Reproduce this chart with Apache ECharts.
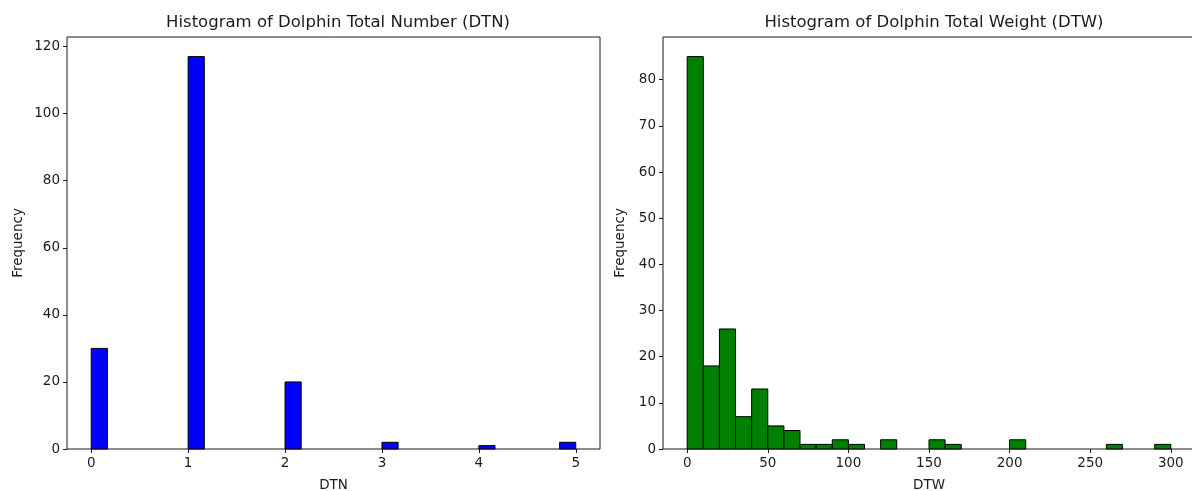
<!DOCTYPE html>
<html>
<head>
<meta charset="utf-8">
<script src="https://cdn.jsdelivr.net/npm/echarts@6/dist/echarts.min.js"></script>
<style>
  html, body { margin: 0; padding: 0; background: #fff; }
  #chart { width: 1192px; height: 491px; }
</style>
</head>
<body>
<div id="chart"></div>
<script>
// Histogram of DTN: 30 equal bins spanning 0..5
const dtnRange = [0, 5];
const dtnCounts = [30, 0, 0, 0, 0, 0, 117, 0, 0, 0, 0, 0, 20, 0, 0, 0, 0, 0, 2, 0, 0, 0, 0, 0, 1, 0, 0, 0, 0, 2];
const dtnXTicks = [0, 1, 2, 3, 4, 5];
const dtnYTicks = [0, 20, 40, 60, 80, 100, 120];

// Histogram of DTW: 30 equal bins spanning 0..300
const dtwRange = [0, 300];
const dtwCounts = [85, 18, 26, 7, 13, 5, 4, 1, 1, 2, 1, 0, 2, 0, 0, 2, 1, 0, 0, 0, 2, 0, 0, 0, 0, 0, 1, 0, 0, 1];
const dtwXTicks = [0, 50, 100, 150, 200, 250, 300];
const dtwYTicks = [0, 10, 20, 30, 40, 50, 60, 70, 80];

const FONT = 'DejaVu Sans';
const INK = '#1a1a1a';

// turn a counts array into [binStart, binEnd, count] rows
function binRows(range, counts) {
  const w = (range[1] - range[0]) / counts.length;
  return counts.map((c, i) => [range[0] + i * w, range[0] + (i + 1) * w, c])
               .filter(r => r[2] > 0);
}

function padded(range, frac) {
  const span = range[1] - range[0];
  return [range[0] - span * frac, range[1] + span * frac];
}

function histSeries(idx, rows, color) {
  return {
    type: 'custom',
    xAxisIndex: idx,
    yAxisIndex: idx,
    data: rows,
    renderItem: function (params, api) {
      const p0 = api.coord([api.value(0), 0]);
      const p1 = api.coord([api.value(1), api.value(2)]);
      return {
        type: 'rect',
        shape: { x: p0[0], y: p1[1], width: p1[0] - p0[0], height: p0[1] - p1[1] },
        style: { fill: color, stroke: '#000', lineWidth: 1 }
      };
    }
  };
}

function xAxisFor(idx, ext, ticks, name) {
  return {
    type: 'value', gridIndex: idx, min: ext[0], max: ext[1],
    name: name, nameLocation: 'middle', nameGap: 29,
    nameTextStyle: { fontFamily: FONT, fontSize: 13.5, color: INK },
    axisLine: { show: false, onZero: false },
    axisTick: { show: true, length: 4, inside: false, customValues: ticks, lineStyle: { color: INK, width: 1 } },
    axisLabel: { customValues: ticks, fontFamily: FONT, fontSize: 13.5, color: INK, margin: 7 },
    splitLine: { show: false }
  };
}

function yAxisFor(idx, ext, ticks) {
  return {
    type: 'value', gridIndex: idx, min: ext[0], max: ext[1],
    name: 'Frequency', nameLocation: 'middle', nameGap: idx === 0 ? 42 : 36, nameRotate: 90,
    nameTextStyle: { fontFamily: FONT, fontSize: 13.5, color: INK },
    axisLine: { show: false, onZero: false },
    axisTick: { show: true, length: 4, inside: false, customValues: ticks, lineStyle: { color: INK, width: 1 } },
    axisLabel: { customValues: ticks, fontFamily: FONT, fontSize: 13.5, color: INK, margin: 7 },
    splitLine: { show: false }
  };
}

const dtnMax = Math.max(...dtnCounts) * 1.05;
const dtwMax = Math.max(...dtwCounts) * 1.05;

const chart = echarts.init(document.getElementById('chart'), null, { renderer: 'canvas' });
chart.setOption({
  animation: false,
  backgroundColor: '#fff',
  title: [
    { text: 'Histogram of Dolphin Total Number (DTN)', left: 333, top: 9, textAlign: 'center',
      textStyle: { fontFamily: FONT, fontSize: 16.5, fontWeight: 'normal', color: INK } },
    { text: 'Histogram of Dolphin Total Weight (DTW)', left: 929, top: 9, textAlign: 'center',
      textStyle: { fontFamily: FONT, fontSize: 16.5, fontWeight: 'normal', color: INK } }
  ],
  grid: [
    { left: 67, top: 37, width: 533, height: 412, outerBoundsMode: 'none', containLabel: false,
      show: true, borderColor: INK, borderWidth: 1, backgroundColor: 'transparent' },
    { left: 663, top: 37, width: 532, height: 412, outerBoundsMode: 'none', containLabel: false,
      show: true, borderColor: INK, borderWidth: 1, backgroundColor: 'transparent' }
  ],
  xAxis: [
    xAxisFor(0, padded(dtnRange, 0.05), dtnXTicks, 'DTN'),
    xAxisFor(1, padded(dtwRange, 0.05), dtwXTicks, 'DTW')
  ],
  yAxis: [
    yAxisFor(0, [0, dtnMax], dtnYTicks),
    yAxisFor(1, [0, dtwMax], dtwYTicks)
  ],
  series: [
    histSeries(0, binRows(dtnRange, dtnCounts), '#0000ff'),
    histSeries(1, binRows(dtwRange, dtwCounts), '#008000')
  ]
});
</script>
</body>
</html>
